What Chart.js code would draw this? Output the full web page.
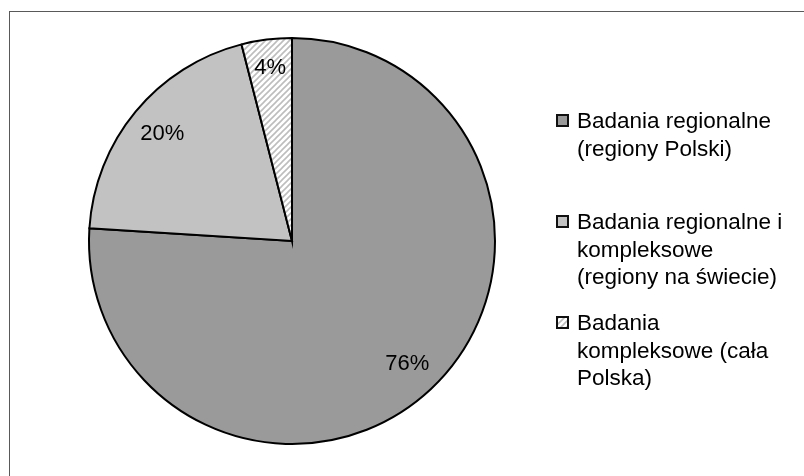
<!DOCTYPE html>
<html>
<head>
<meta charset="utf-8">
<script src="https://cdn.jsdelivr.net/npm/chart.js@4"></script>
<style>
  html, body { margin: 0; padding: 0; background: #fff; }
  #wrap { position: relative; width: 804px; height: 476px; overflow: hidden; }
  #frame { position: absolute; left: 9px; top: 11px; width: 820px; height: 500px;
           border-left: 1px solid #595959; border-top: 1px solid #595959; }
  #c { position: absolute; left: 0; top: 0; }
  #legend { position: absolute; left: 0; top: 0; width: 804px; height: 476px; pointer-events: none;
            font-family: "Liberation Sans", Arial, sans-serif; font-size: 22.5px; line-height: 27.5px; color: #000; }
  .item { position: absolute; left: 577px; }
  .box { position: absolute; left: -21px; top: 7px; width: 9px; height: 9px; border: 2px solid #111; }
</style>
</head>
<body>
<div id="wrap">
  <div id="frame"></div>
  <canvas id="c" width="804" height="476"></canvas>
  <div id="legend"></div>
</div>
<script>
// Research type shares (percent)
const categories = [
  ['Badania regionalne', '(regiony Polski)'],
  ['Badania regionalne i', 'kompleksowe', '(regiony na świecie)'],
  ['Badania', 'kompleksowe (cała', 'Polska)']
];
const shares = [76, 20, 4];

// Diagonal hatch fill for the smallest slice
function makeHatch() {
  const s = 6;
  const p = document.createElement('canvas');
  p.width = s; p.height = s;
  const g = p.getContext('2d');
  g.fillStyle = '#ffffff';
  g.fillRect(0, 0, s, s);
  g.strokeStyle = '#bdbdbd';
  g.lineWidth = 1.6;
  g.beginPath();
  g.moveTo(-1, s + 1); g.lineTo(s + 1, -1);
  g.moveTo(-1, 1); g.lineTo(1, -1);
  g.moveTo(s - 1, s + 1); g.lineTo(s + 1, s - 1);
  g.stroke();
  return p;
}
const hatchCanvas = makeHatch();
const ctx = document.getElementById('c').getContext('2d');
const hatch = ctx.createPattern(hatchCanvas, 'repeat');
const fills = ['#9a9a9a', '#c2c2c2', hatch];

// Percent labels inside each slice
const sliceLabels = {
  id: 'sliceLabels',
  afterDatasetsDraw(chart) {
    const meta = chart.getDatasetMeta(0);
    const data = chart.data.datasets[0].data;
    const total = data.reduce((a, b) => a + b, 0);
    const c = chart.ctx;
    c.save();
    c.font = '22px "Liberation Sans", Arial, sans-serif';
    c.fillStyle = '#000';
    c.textAlign = 'center';
    c.textBaseline = 'middle';
    meta.data.forEach((arc, i) => {
      const p = arc.getProps(['x', 'y', 'startAngle', 'endAngle', 'outerRadius'], true);
      const mid = (p.startAngle + p.endAngle) / 2;
      const r = p.outerRadius * (data[i] / total < 0.1 ? 0.86 : 0.83);
      const pct = Math.round(data[i] / total * 100) + '%';
      c.fillText(pct, p.x + Math.cos(mid) * r, p.y + Math.sin(mid) * r);
    });
    c.restore();
  }
};

new Chart(ctx, {
  type: 'pie',
  data: {
    labels: categories.map(l => l.join(' ')),
    datasets: [{
      data: shares,
      backgroundColor: fills,
      borderColor: '#000',
      borderWidth: 2,
      borderJoinStyle: 'miter'
    }]
  },
  options: {
    responsive: false,
    animation: false,
    layout: { padding: { top: 37, bottom: 31, left: 88, right: 308 } },
    plugins: { legend: { display: false }, tooltip: { enabled: false } }
  },
  plugins: [sliceLabels]
});

// Legend entries on the right
const legend = document.getElementById('legend');
categories.forEach((lines, i) => {
  const item = document.createElement('div');
  item.className = 'item';
  item.style.top = (107 + i * 101) + 'px';
  const box = document.createElement('div');
  box.className = 'box';
  if (i < 2) box.style.background = fills[i];
  else box.style.backgroundImage = 'url(' + hatchCanvas.toDataURL() + ')';
  item.appendChild(box);
  lines.forEach(t => {
    const ln = document.createElement('div');
    ln.textContent = t;
    item.appendChild(ln);
  });
  legend.appendChild(item);
});
</script>
</body>
</html>
